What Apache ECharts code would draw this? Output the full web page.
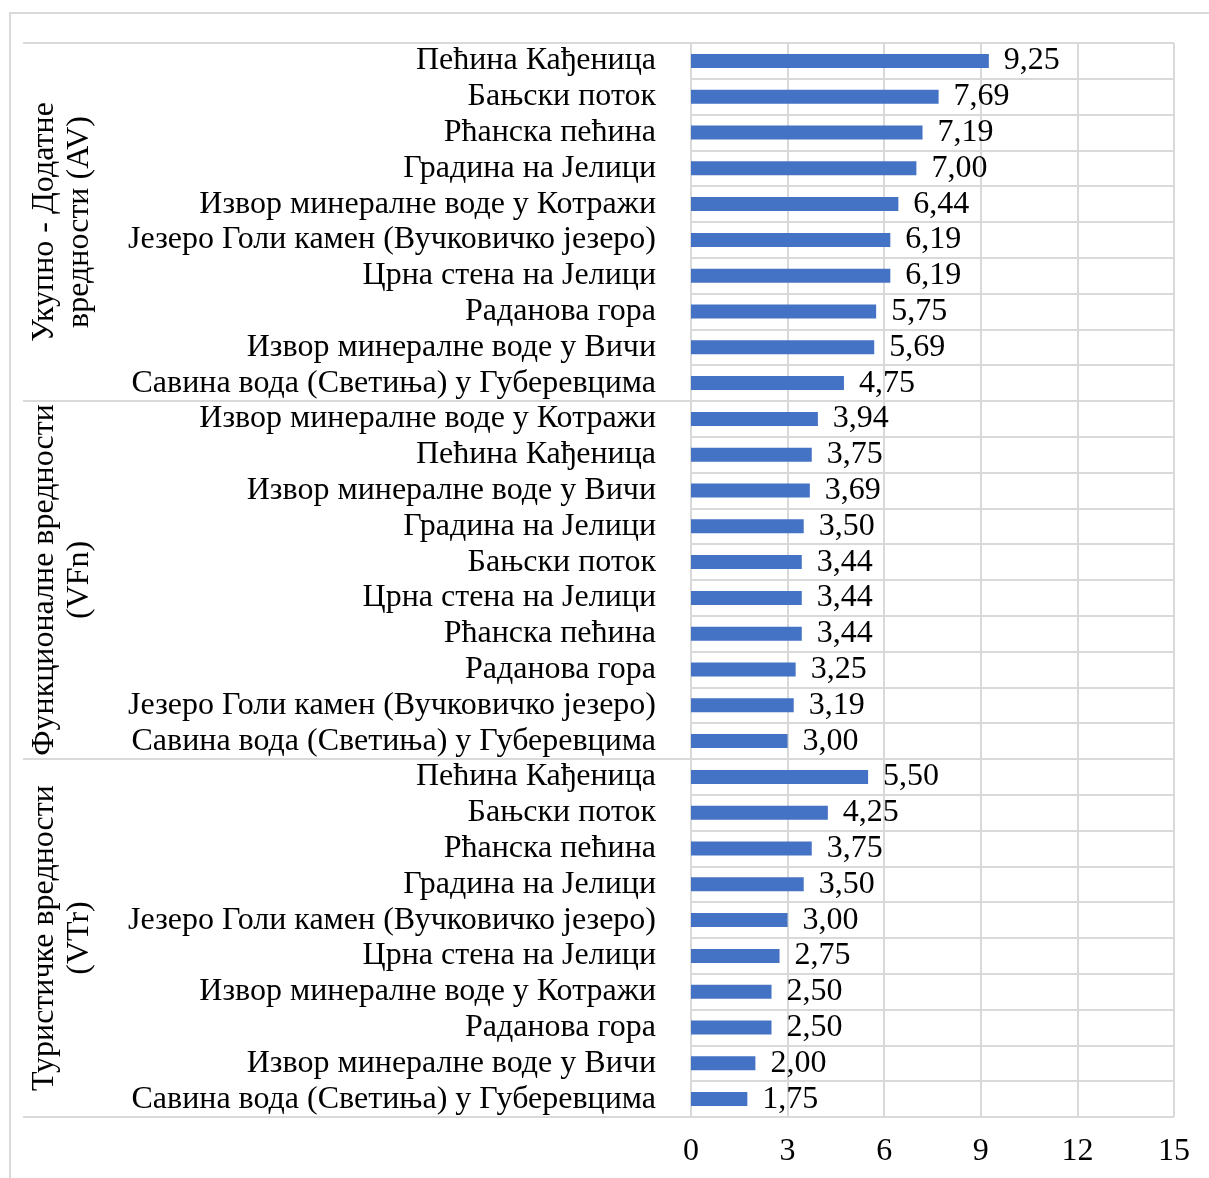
<!DOCTYPE html>
<html><head><meta charset="utf-8">
<script src="https://cdn.jsdelivr.net/npm/echarts@6/dist/echarts.min.js"></script>
<style>html,body{margin:0;padding:0;background:#fff}#c{width:1209px;height:1178px}</style>
</head><body><div id="c"></div>
<script>
const groupNames = ['Укупно - Додатне\nвредности (AV)', 'Функционалне вредности\n(VFn)', 'Туристичке вредности\n(VTr)'];
const catsAV = ['Пећина Кађеница','Бањски поток','Рћанска пећина','Градина на Јелици','Извор минералне воде у Котражи','Језеро Голи камен (Вучковичко језеро)','Црна стена на Јелици','Раданова гора','Извор минералне воде у Вичи','Савина вода (Светиња) у Губеревцима'];
const valsAV = [9.25,7.69,7.19,7.00,6.44,6.19,6.19,5.75,5.69,4.75];
const catsVFn = ['Извор минералне воде у Котражи','Пећина Кађеница','Извор минералне воде у Вичи','Градина на Јелици','Бањски поток','Црна стена на Јелици','Рћанска пећина','Раданова гора','Језеро Голи камен (Вучковичко језеро)','Савина вода (Светиња) у Губеревцима'];
const valsVFn = [3.94,3.75,3.69,3.50,3.44,3.44,3.44,3.25,3.19,3.00];
const catsVTr = ['Пећина Кађеница','Бањски поток','Рћанска пећина','Градина на Јелици','Језеро Голи камен (Вучковичко језеро)','Црна стена на Јелици','Извор минералне воде у Котражи','Раданова гора','Извор минералне воде у Вичи','Савина вода (Светиња) у Губеревцима'];
const valsVTr = [5.50,4.25,3.75,3.50,3.00,2.75,2.50,2.50,2.00,1.75];
const xTicks = [0,3,6,9,12,15];

const names = catsAV.concat(catsVFn, catsVTr);
const values = valsAV.concat(valsVFn, valsVTr);
const keys = names.map((n,i)=>String(i));
const FONT = "'Liberation Serif','Times New Roman',serif";
const GRID = '#d9d9d9';
const FS = 32;

const chart = echarts.init(document.getElementById('c'), null, {renderer:'canvas'});
chart.setOption({
  animation:false,
  backgroundColor:'#fff',
  textStyle:{fontFamily:FONT},
  graphic:[{type:'rect', shape:{x:10,y:13,width:1400,height:1400}, style:{fill:'none', stroke:GRID, lineWidth:2}, silent:true, z:-1}],
  grid:{left:691, right:35, top:43, bottom:61, containLabel:false},
  xAxis:{type:'value', min:xTicks[0], max:xTicks[xTicks.length-1], interval:3,
    axisLine:{show:false}, axisTick:{show:false},
    splitLine:{show:true, lineStyle:{color:GRID, width:2}},
    axisLabel:{fontSize:FS, color:'#000', fontFamily:FONT, margin:19}},
  yAxis:[{type:'category', data:keys, inverse:true,
    axisLine:{show:false},
    axisTick:{show:true, length:668, interval:(i)=>i%10===0, lineStyle:{color:GRID, width:2}},
    splitLine:{show:true, interval:0, lineStyle:{color:GRID, width:2}},
    axisLabel:{interval:0, fontSize:FS, color:'#000', fontFamily:FONT, margin:35, formatter:(v)=>names[+v]}},
   {type:'category', data:groupNames, inverse:true, position:'left', offset:0,
    axisLine:{show:false}, axisTick:{show:false}, splitLine:{show:false},
    axisLabel:{interval:0, rotate:90, margin:629, align:'center', verticalAlign:'middle', fontSize:FS, lineHeight:35, color:'#000', fontFamily:FONT}}],
  series:[{type:'bar', data:values, barWidth:14, itemStyle:{color:'#4472C4'},
    label:{show:true, position:'right', distance:15, fontSize:FS, color:'#000', fontFamily:FONT,
      formatter:(p)=>p.value.toFixed(2).replace('.',',')}}]
});
</script></body></html>
